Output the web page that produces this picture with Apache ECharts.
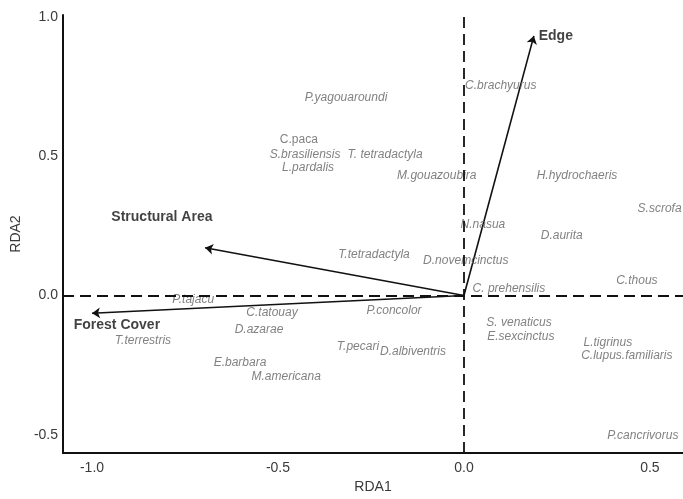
<!DOCTYPE html>
<html>
<head>
<meta charset="utf-8">
<script src="https://cdn.jsdelivr.net/npm/echarts@6/dist/echarts.min.js"></script>
<style>
  html, body { margin: 0; padding: 0; background: #fff; }
  #chart { width: 683px; height: 499px; }
</style>
</head>
<body>
<div id="chart"></div>
<script>
// species scores (RDA1, RDA2)
const speciesNames = [
  'C.brachyurus', 'P.yagouaroundi', 'C.paca', 'S.brasiliensis', 'T. tetradactyla',
  'L.pardalis', 'M.gouazoubira', 'H.hydrochaeris', 'S.scrofa', 'N.nasua',
  'D.aurita', 'T.tetradactyla', 'D.novemcinctus', 'C.thous', 'C. prehensilis',
  'P.tajacu', 'C.tatouay', 'P.concolor', 'D.azarae', 'S. venaticus',
  'T.terrestris', 'E.sexcinctus', 'L.tigrinus', 'T.pecari', 'D.albiventris',
  'C.lupus.familiaris', 'E.barbara', 'M.americana', 'P.cancrivorus'
];
const speciesX = [
  0.099, -0.317, -0.444, -0.427, -0.212,
  -0.419, -0.073, 0.304, 0.526, 0.051,
  0.263, -0.242, 0.005, 0.465, 0.121,
  -0.728, -0.516, -0.188, -0.551, 0.148,
  -0.863, 0.153, 0.387, -0.285, -0.137,
  0.438, -0.602, -0.478, 0.481
];
const speciesY = [
  0.754, 0.712, 0.559, 0.505, 0.505,
  0.459, 0.431, 0.431, 0.310, 0.253,
  0.214, 0.146, 0.125, 0.053, 0.025,
  -0.014, -0.060, -0.053, -0.121, -0.096,
  -0.164, -0.149, -0.171, -0.185, -0.203,
  -0.217, -0.242, -0.292, -0.505
];
// the one label printed upright in the original
const uprightNames = ['C.paca'];

// environmental vectors
const vectorNames = ['Edge', 'Structural Area', 'Forest Cover'];
const vectorX = [0.188, -0.696, -1.0];
const vectorY = [0.932, 0.171, -0.064];
const vectorLabelX = [0.247, -0.812, -0.933];
const vectorLabelY = [0.932, 0.281, -0.107];

const xTicks = [-1.0, -0.5, 0.0, 0.5];
const yTicks = [-0.5, 0.0, 0.5, 1.0];

const chart = echarts.init(document.getElementById('chart'));

const axisText = { color: '#3a3a3a', fontSize: 14, fontFamily: 'Liberation Sans' };

chart.setOption({
  animation: false,
  grid: { left: 63, right: 0, top: 15, bottom: 42 },
  xAxis: {
    type: 'value',
    min: -1.078,
    max: 0.589,
    name: 'RDA1',
    nameLocation: 'middle',
    nameGap: 25,
    nameTextStyle: axisText,
    axisLine: { onZero: false, lineStyle: { color: '#111', width: 2 } },
    axisTick: { show: false },
    splitLine: { show: false },
    axisLabel: Object.assign({
      margin: 8,
      customValues: xTicks,
      formatter: v => v.toFixed(1)
    }, axisText)
  },
  yAxis: {
    type: 'value',
    min: -0.566,
    max: 1.007,
    name: 'RDA2',
    nameLocation: 'middle',
    nameGap: 40,
    nameRotate: 90,
    nameTextStyle: axisText,
    axisLine: { onZero: false, lineStyle: { color: '#111', width: 2 } },
    axisTick: { show: false },
    splitLine: { show: false },
    axisLabel: Object.assign({
      margin: 5,
      customValues: yTicks,
      formatter: v => v.toFixed(1)
    }, axisText)
  },
  series: [
    {
      type: 'scatter',
      symbolSize: 1,
      itemStyle: { color: 'rgba(0,0,0,0)' },
      data: speciesNames.map((n, i) => ({
        name: n,
        value: [speciesX[i], speciesY[i]],
        label: uprightNames.includes(n) ? { fontStyle: 'normal' } : undefined
      })),
      label: {
        show: true,
        position: 'inside',
        formatter: p => p.name,
        color: '#616161',
        fontSize: 12,
        fontStyle: 'italic',
        fontFamily: 'Liberation Sans'
      },
      markLine: {
        silent: true,
        symbol: 'none',
        label: { show: false },
        lineStyle: { color: '#111', width: 1.8, type: [11, 6] },
        data: [{ xAxis: 0 }, { yAxis: 0 }]
      }
    },
    {
      type: 'lines',
      coordinateSystem: 'cartesian2d',
      symbol: ['none', 'arrow'],
      symbolSize: 8,
      lineStyle: { color: '#111', width: 1.6, opacity: 1, curveness: 0 },
      data: vectorNames.map((n, i) => ({ coords: [[0, 0], [vectorX[i], vectorY[i]]] }))
    },
    {
      type: 'scatter',
      symbolSize: 1,
      itemStyle: { color: 'rgba(0,0,0,0)' },
      data: vectorNames.map((n, i) => ({ name: n, value: [vectorLabelX[i], vectorLabelY[i]] })),
      label: {
        show: true,
        position: 'inside',
        formatter: p => p.name,
        color: '#111',
        fontSize: 14,
        fontWeight: 'bold',
        fontFamily: 'Liberation Sans'
      }
    }
  ]
});
</script>
</body>
</html>
